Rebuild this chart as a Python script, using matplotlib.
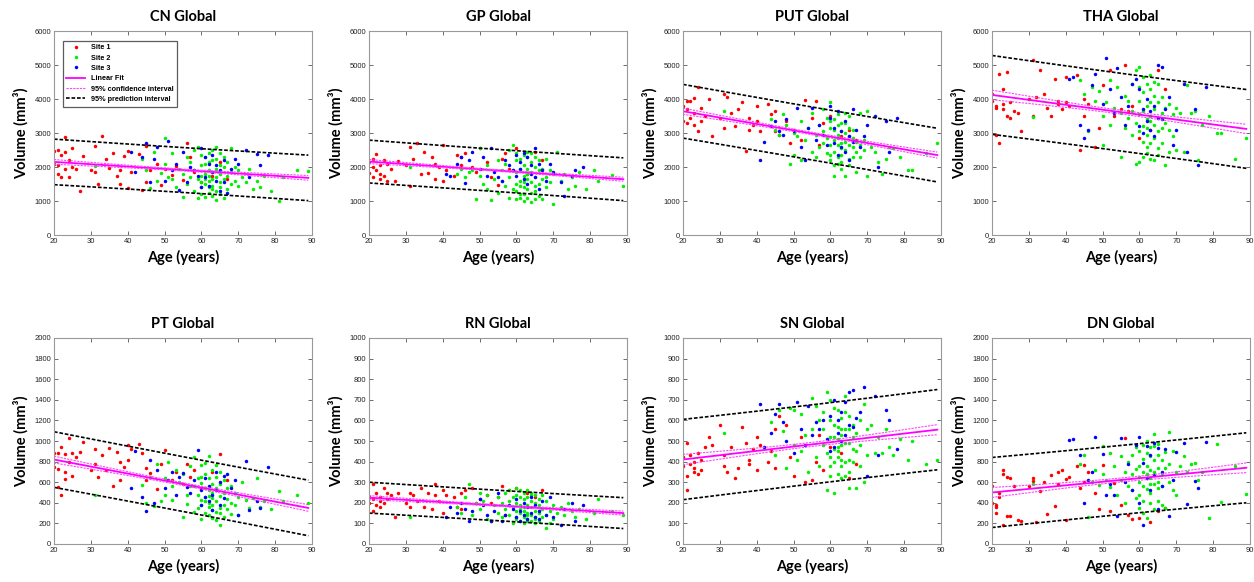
import matplotlib
matplotlib.use("Agg")
import matplotlib.pyplot as plt
import numpy as np

plt.rcParams['font.family'] = ['Lato', 'DejaVu Sans']

# subject ages per site (same subjects in every structure)
site1_age = [20, 20, 21, 21, 21, 22, 22, 23, 23, 23,
             24, 24, 25, 25, 26, 27, 28, 30, 31, 31,
             32, 33, 34, 35, 36, 37, 38, 38, 39, 40,
             40, 41, 43, 44, 45, 45, 46, 48, 49, 50,
             52, 53, 55, 56, 57, 58, 60, 63, 65, 67]
site2_age = [31, 44, 45, 46, 47, 48, 49, 50, 50, 51,
             52, 52, 53, 54, 55, 55, 56, 56, 57, 57,
             58, 58, 58, 59, 59, 59, 60, 60, 60, 60,
             60, 60, 61, 61, 61, 61, 61, 61, 62, 62,
             62, 62, 62, 62, 62, 63, 63, 63, 63, 63,
             63, 63, 64, 64, 64, 64, 64, 64, 65, 65,
             65, 65, 65, 65, 66, 66, 66, 66, 67, 67,
             67, 68, 68, 68, 69, 69, 70, 70, 71, 72,
             73, 74, 75, 76, 77, 79, 81, 82, 86, 89]
site3_age = [41, 42, 44, 45, 46, 47, 48, 50, 51, 52,
             53, 54, 55, 56, 57, 58, 59, 60, 60, 61,
             61, 62, 62, 63, 63, 64, 64, 65, 65, 66,
             66, 67, 68, 69, 70, 72, 73, 75, 76, 78]

# volumes (mm^3), rows follow the age rows above
cn_site1 = [2460, 2100, 2500, 1800, 2050, 2350, 1720, 2880, 2450, 1950,
            2200, 1700, 2550, 2000, 1950, 1280, 2330, 1900, 2620, 1850,
            1500, 2900, 2250, 1980, 2420, 1750, 1900, 1500, 2310, 2460,
            1380, 1850, 2380, 1320, 1560, 2620, 1900, 2100, 1470, 1950,
            1770, 2040, 1620, 2720, 2300, 1850, 1560, 1750, 2160, 1650]
cn_site2 = [2020, 2250, 1900, 1380, 2450, 1600, 1820, 2850, 2100, 1700,
            1650, 2400, 1400, 1950, 1120, 1800, 2280, 1500, 1700, 2150,
            1300, 1900, 2500, 1080, 1650, 2600, 1400, 1750, 2050, 2350,
            1550, 1200, 1130, 1500, 1800, 2100, 2300, 1650, 1250, 1600,
            1900, 2150, 2400, 1400, 1750, 1150, 1450, 1850, 2200, 2500,
            1650, 1350, 1020, 1300, 1700, 1950, 2250, 2600, 1200, 1550,
            1800, 2050, 2400, 1400, 1100, 1650, 2000, 2300, 1350, 1750,
            2150, 1500, 1850, 2550, 1600, 2000, 1450, 1900, 1700, 1550,
            1950, 1350, 1600, 1400, 1750, 1280, 1000, 1700, 1920, 1870]
cn_site3 = [2430, 1850, 2300, 2700, 1550, 2250, 2580, 1600, 2770, 1920,
            2100, 1330, 2450, 1550, 2000, 1900, 1750, 2550, 1400, 2300,
            1700, 2100, 1450, 1850, 2350, 1600, 2050, 1300, 1900, 2200,
            1550, 1250, 1950, 2250, 2080, 2500, 1700, 2380, 2050, 2350]

gp_site1 = [1830, 2150, 2000, 2250, 1700, 2380, 1900, 1800, 2050, 1650,
            1750, 2200, 1580, 2100, 1950, 1600, 2180, 2050, 2600, 1450,
            2250, 2720, 1800, 2450, 1820, 2280, 1640, 2100, 2000, 2650,
            1580, 1900, 1750, 2350, 2300, 2050, 2400, 2000, 1850, 2550,
            2150, 1700, 1480, 2250, 2400, 1950, 2550, 1800, 2450, 2200]
gp_site2 = [2000, 1800, 1950, 1700, 1850, 1900, 1050, 2550, 1750, 1500,
            1350, 2050, 1020, 1650, 1250, 2200, 1600, 1900, 1450, 2100,
            1100, 1700, 2500, 1350, 1900, 2650, 1050, 1500, 1850, 2200,
            2400, 1300, 1200, 1600, 1950, 2250, 1450, 1100, 1000, 1750,
            2050, 2350, 1400, 1550, 1200, 1100, 1650, 1950, 2300, 1350,
            1800, 2450, 960, 1250, 1550, 1850, 2150, 2400, 1050, 1450,
            1700, 2000, 2300, 1300, 1150, 1500, 1900, 2200, 1050, 1650,
            1950, 1400, 1700, 2250, 1550, 1900, 920, 1800, 2450, 1600,
            1800, 1350, 1700, 1450, 1850, 1350, 1900, 1600, 1760, 1450]
gp_site3 = [1800, 1750, 2100, 2300, 1520, 2200, 2450, 1950, 2300, 1750,
            2550, 1850, 1700, 1600, 2200, 2050, 1900, 2350, 1750, 2150,
            1950, 2400, 1650, 2300, 1500, 2050, 1800, 2550, 1700, 2100,
            1350, 1900, 1600, 2100, 1850, 1550, 1150, 1750, 1900, 2000]

put_site1 = [3800, 3350, 3700, 3950, 3300, 3950, 3450, 3250, 4020, 3600,
             3050, 4350, 3750, 3350, 3500, 4000, 2900, 3450, 4150, 3150,
             4050, 3600, 3200, 3700, 3900, 2480, 3450, 3100, 3250, 3800,
             3350, 3050, 3850, 3550, 3050, 3650, 2950, 3350, 2700, 3100,
             2800, 3980, 3450, 3950, 2650, 3300, 3500, 2900, 3100, 2800]
put_site2 = [3650, 3400, 3100, 2950, 3550, 3250, 2100, 2350, 3000, 2900,
             2200, 3350, 2800, 3150, 2450, 3600, 2300, 2950, 3250, 2600,
             3700, 2700, 3050, 2400, 3450, 2850, 3900, 2350, 2650, 3150,
             3350, 2200, 1750, 2450, 2800, 3100, 3400, 2050, 2300, 2650,
             2950, 3250, 3550, 2100, 2850, 1950, 2350, 2700, 3050, 3300,
             2550, 2150, 1750, 2500, 2750, 3000, 3300, 3600, 2250, 2650,
             2900, 3150, 3500, 2050, 2300, 2600, 2850, 3100, 2450, 1850,
             2750, 2300, 2650, 3600, 2500, 2800, 1750, 3650, 2600, 2450,
             2150, 1800, 2250, 2600, 2550, 2300, 1900, 1900, 2400, 2720]
put_site3 = [2200, 2750, 3200, 3350, 3050, 2950, 3400, 3050, 3750, 2600,
             2200, 3150, 3750, 2800, 3250, 2950, 2650, 3800, 3450, 2700,
             3150, 3650, 2350, 3050, 2600, 2450, 3350, 2900, 2200, 3700,
             2750, 3100, 2600, 2900, 3250, 3500, 2000, 3350, 2450, 3450]

tha_site1 = [3950, 4150, 3800, 3750, 2950, 4750, 2700, 3850, 4300, 3700,
             4800, 3500, 3900, 3450, 3650, 3600, 3050, 4000, 5150, 3500,
             4050, 4850, 4150, 3750, 3500, 4600, 3850, 3950, 3700, 4650,
             3900, 3800, 4700, 2500, 3500, 4000, 3850, 2600, 3150, 4400,
             4850, 3500, 3700, 5000, 3650, 3800, 2850, 3100, 4850, 4300]
tha_site2 = [3480, 4550, 4150, 3050, 4350, 3950, 4250, 2650, 3500, 3900,
             4550, 3250, 3750, 4350, 2300, 3600, 3150, 4100, 3950, 3450,
             2950, 4450, 3650, 2100, 3300, 4850, 2150, 3050, 3550, 4950,
             3950, 4350, 2300, 2750, 3200, 3650, 4200, 4650, 2400, 2950,
             3400, 3800, 4450, 2600, 3150, 2250, 2700, 3500, 3900, 4300,
             4700, 3350, 2200, 2850, 3250, 3700, 4100, 4500, 2550, 3050,
             3450, 3900, 4450, 2350, 2700, 3150, 3600, 4050, 2050, 3300,
             3750, 2450, 3100, 3850, 2900, 3550, 2500, 3750, 3600, 2450,
             4400, 3600, 3650, 2200, 3250, 3500, 3000, 3000, 2250, 2850]
tha_site3 = [4600, 4650, 3250, 2850, 3100, 4400, 4750, 3850, 5200, 4300,
             3600, 4900, 4050, 3250, 3800, 4450, 4600, 3200, 4300, 3000,
             3700, 3350, 4000, 3100, 3650, 3800, 2900, 5000, 3450, 4950,
             3400, 3700, 4050, 2650, 3100, 4450, 2450, 3700, 2050, 4350]

pt_site1 = [880, 750, 730, 880, 550, 940, 480, 870, 630, 700,
            1030, 800, 880, 660, 840, 890, 990, 720, 780, 920,
            650, 860, 720, 930, 560, 890, 800, 620, 750, 960,
            820, 920, 970, 880, 740, 620, 690, 530, 780, 910,
            620, 700, 580, 780, 650, 720, 540, 700, 870, 620]
pt_site2 = [480, 570, 400, 650, 370, 780, 420, 640, 480, 800,
            560, 430, 720, 600, 260, 680, 480, 390, 560, 760,
            310, 560, 840, 350, 480, 640, 240, 430, 590, 770,
            650, 380, 300, 420, 540, 680, 790, 460, 280, 400,
            520, 640, 850, 360, 470, 250, 330, 450, 580, 720,
            500, 380, 230, 310, 420, 540, 650, 770, 180, 350,
            470, 580, 700, 300, 260, 380, 500, 620, 340, 540,
            440, 290, 400, 560, 380, 500, 280, 460, 600, 430,
            350, 450, 640, 360, 420, 340, 510, 420, 480, 400]
pt_site3 = [540, 900, 460, 320, 820, 400, 720, 540, 620, 700,
            480, 650, 690, 550, 500, 620, 910, 380, 520, 460,
            640, 420, 560, 330, 480, 700, 520, 380, 600, 660,
            450, 680, 540, 620, 280, 810, 330, 420, 350, 750]

rn_site1 = [200, 230, 290, 160, 220, 250, 190, 180, 230, 210,
            270, 200, 220, 250, 240, 130, 250, 200, 180, 250,
            240, 210, 270, 180, 250, 170, 290, 240, 210, 260,
            150, 240, 230, 180, 170, 250, 260, 270, 200, 220,
            240, 200, 230, 280, 140, 260, 270, 250, 230, 260]
rn_site2 = [130, 180, 150, 230, 290, 140, 200, 250, 170, 210,
            120, 240, 110, 190, 230, 150, 130, 200, 250, 170,
            140, 210, 260, 100, 180, 230, 120, 160, 200, 270,
            240, 130, 110, 150, 190, 230, 260, 170, 100, 140,
            180, 220, 250, 130, 160, 110, 150, 190, 230, 260,
            140, 120, 110, 140, 180, 210, 240, 250, 100, 130,
            160, 200, 240, 120, 110, 150, 190, 220, 130, 240,
            170, 80, 140, 210, 100, 160, 120, 190, 150, 180,
            140, 200, 160, 130, 170, 120, 150, 220, 160, 140]
rn_site3 = [130, 180, 150, 200, 170, 110, 160, 220, 190, 140,
            110, 160, 250, 110, 140, 190, 170, 220, 130, 160,
            110, 200, 140, 180, 120, 150, 230, 130, 190, 160,
            120, 210, 140, 230, 130, 90, 170, 200, 110, 190]

sn_site1 = [420, 380, 490, 330, 260, 430, 390, 350, 400, 370,
            440, 340, 410, 360, 470, 520, 480, 580, 430, 380,
            350, 470, 320, 370, 570, 490, 410, 390, 460, 520,
            360, 480, 400, 450, 370, 560, 620, 580, 420, 330,
            520, 300, 310, 400, 530, 360, 470, 440, 320, 390]
sn_site2 = [540, 590, 430, 650, 550, 370, 660, 480, 650, 410,
            630, 450, 530, 350, 710, 560, 670, 420, 600, 380,
            480, 560, 640, 260, 440, 740, 330, 420, 520, 700,
            600, 380, 250, 460, 520, 580, 660, 400, 340, 450,
            510, 570, 650, 420, 470, 320, 380, 480, 560, 610,
            530, 410, 330, 400, 490, 560, 640, 720, 270, 410,
            490, 560, 620, 350, 400, 460, 520, 580, 270, 450,
            540, 380, 480, 600, 300, 680, 430, 560, 580, 440,
            520, 440, 560, 470, 430, 510, 410, 500, 390, 410]
sn_site3 = [680, 470, 540, 630, 680, 590, 500, 440, 690, 560,
            480, 670, 530, 590, 560, 600, 510, 620, 450, 700,
            470, 600, 540, 640, 500, 530, 690, 580, 740, 750,
            570, 610, 640, 760, 330, 720, 430, 650, 600, 460]

dn_site1 = [400, 560, 300, 380, 360, 500, 460, 720, 180, 680,
            650, 270, 640, 270, 560, 230, 220, 560, 610, 640,
            210, 510, 600, 290, 670, 370, 580, 700, 720, 230,
            630, 650, 760, 540, 600, 770, 700, 500, 340, 770,
            320, 590, 380, 1030, 280, 240, 250, 210, 320, 350]
dn_site2 = [580, 780, 860, 260, 600, 720, 570, 950, 680, 620,
            880, 550, 760, 480, 850, 620, 700, 400, 800, 560,
            520, 680, 860, 450, 730, 940, 350, 600, 760, 900,
            480, 650, 300, 560, 700, 830, 960, 420, 250, 640,
            760, 880, 1000, 530, 680, 400, 580, 720, 850, 940,
            640, 500, 340, 580, 700, 820, 950, 1070, 420, 600,
            740, 860, 970, 540, 380, 560, 690, 820, 350, 740,
            890, 1090, 600, 780, 520, 900, 480, 700, 760, 850,
            700, 780, 790, 620, 700, 250, 970, 410, 760, 490]
dn_site3 = [1010, 1020, 860, 400, 620, 700, 1040, 870, 480, 580,
            480, 270, 1030, 600, 780, 520, 960, 1040, 400, 180,
            790, 950, 640, 860, 520, 980, 670, 340, 930, 700,
            560, 920, 270, 620, 890, 980, 390, 610, 540, 990]

titles = ["CN Global", "GP Global", "PUT Global", "THA Global",
          "PT Global", "RN Global", "SN Global", "DN Global"]
y_max = [6000, 6000, 6000, 6000, 2000, 1000, 1000, 2000]
y_step = [1000, 1000, 1000, 1000, 200, 100, 100, 200]
# fitted volume at youngest / oldest age, CI and PI half widths at the ends
fit_start = [2150, 2160, 3640, 4120, 820, 225, 410, 500]
fit_end = [1680, 1640, 2350, 3120, 350, 150, 555, 740]
ci_half = [70, 60, 90, 140, 33, 10, 25, 48]
pi_half = [670, 630, 790, 1160, 270, 75, 195, 340]

volumes = [(cn_site1, cn_site2, cn_site3), (gp_site1, gp_site2, gp_site3),
           (put_site1, put_site2, put_site3), (tha_site1, tha_site2, tha_site3),
           (pt_site1, pt_site2, pt_site3), (rn_site1, rn_site2, rn_site3),
           (sn_site1, sn_site2, sn_site3), (dn_site1, dn_site2, dn_site3)]

SITE_COLORS = ['#ff0000', '#00f000', '#0000ff']
W, H = 1254, 582


def interval_shape(x, ages):
    # relative width of the mean / prediction bands along the age axis
    n = len(ages)
    xbar = np.mean(ages)
    sxx = np.sum((ages - xbar) ** 2)
    lev = 1.0 / n + (x - xbar) ** 2 / sxx
    return np.sqrt(lev), np.sqrt(1 + lev)


def draw_panel(ax, i, ages, legend=False):
    vols = volumes[i]
    age_lists = [site1_age, site2_age, site3_age]
    for k in range(3):
        ax.plot(age_lists[k], vols[k], 'o', ms=2.5, mew=0, color=SITE_COLORS[k],
                label=f"Site {k + 1}")

    x0, x1 = ages.min(), ages.max()
    x = np.linspace(x0, x1, 120)
    fit = fit_start[i] + (fit_end[i] - fit_start[i]) * (x - x0) / (x1 - x0)
    ci_w, pi_w = interval_shape(x, ages)
    ci = ci_half[i] * ci_w / ci_w[0]
    pi = pi_half[i] * pi_w / pi_w[0]

    ax.plot(x, fit, '-', color='#ff00ff', lw=1.3, label="Linear Fit")
    ax.plot(x, fit + ci, color='#ff44ff', lw=0.8, ls=(0, (2, 1)),
            label="95% confidence interval")
    ax.plot(x, fit - ci, color='#ff44ff', lw=0.8, ls=(0, (2, 1)))
    ax.plot(x, fit + pi, color='black', lw=1.2, ls=(0, (2.2, 1.1)),
            label="95% prediction interval")
    ax.plot(x, fit - pi, color='black', lw=1.2, ls=(0, (2.2, 1.1)))

    ax.set_xlim(20, 90)
    ax.set_ylim(0, y_max[i])
    ax.set_xticks(np.arange(20, 91, 10))
    ax.set_yticks(np.arange(0, y_max[i] + 1, y_step[i]))
    ax.tick_params(direction='in', top=True, right=True, length=3, width=0.6,
                   color='#555555', labelsize=5.5, labelcolor='#222222', pad=2)
    for lab in ax.get_xticklabels() + ax.get_yticklabels():
        lab.set_family('Liberation Sans')
    for sp in ax.spines.values():
        sp.set_color('#999999')
        sp.set_linewidth(0.8)

    ax.set_title(titles[i], fontsize=10.5, fontweight='bold', pad=7)
    ax.set_xlabel("Age (years)", fontsize=10.5, fontweight='bold', labelpad=4)
    ax.set_ylabel("Volume (mm³)", fontsize=10.5, fontweight='bold', labelpad=4)

    if legend:
        leg = ax.legend(loc='upper left', frameon=True, fancybox=False,
                        handlelength=2.6, borderpad=0.5, labelspacing=0.45,
                        prop={'family': 'Liberation Sans', 'weight': 'bold', 'size': 5.2},
                        bbox_to_anchor=(0.02, 0.97))
        leg.get_frame().set_edgecolor('#333333')
        leg.get_frame().set_linewidth(0.9)


def main():
    ages = np.array(site1_age + site2_age + site3_age, dtype=float)
    fig = plt.figure(figsize=(W / 100, H / 100), dpi=100)
    lefts = [54, 369, 683, 992]
    rows = [(31, 235), (338, 544)]
    for i in range(8):
        row, col = divmod(i, 4)
        top, bottom = rows[row]
        ax = fig.add_axes([lefts[col] / W, 1 - bottom / H, 258 / W, (bottom - top) / H])
        draw_panel(ax, i, ages, legend=(i == 0))
    fig.savefig("out.png", dpi=100)


if __name__ == "__main__":
    main()
